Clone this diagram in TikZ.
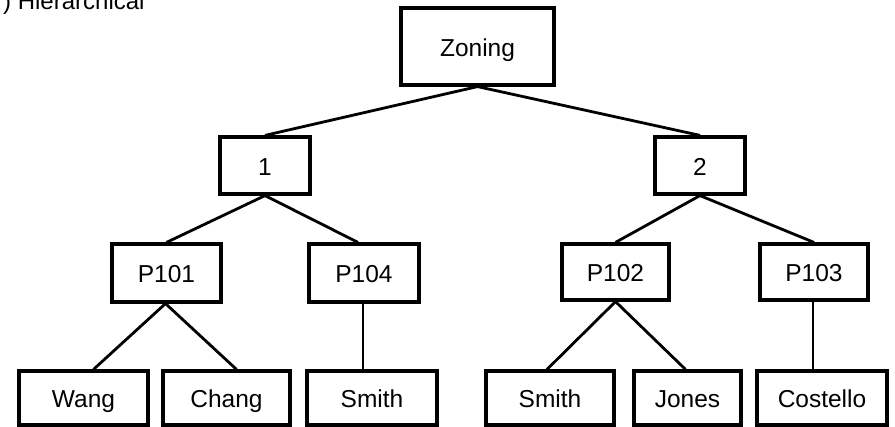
\documentclass[tikz,border=0pt]{standalone}
\usepackage{fontspec}
\setmainfont{Liberation Sans}
\begin{document}
\begin{tikzpicture}[x=1pt,y=-1pt,
  box/.style={draw,line width=3.2pt,inner sep=0pt,text height=20pt,text depth=0pt,font=\fontsize{24.5}{28}\selectfont},
  link/.style={line width=2.8pt}]
\useasboundingbox (0,0) rectangle (895,427);
\fill[white] (0,0) rectangle (895,427);
\node[anchor=base west,inner sep=0pt,font=\fontsize{24}{28}\selectfont] (title) at (3,10) {) Hierarchical};
\node[box,minimum width=153pt,minimum height=77pt] (zoning) at (477.5,46.5) {Zoning};
\node[box,minimum width=90pt,minimum height=57pt] (n1) at (265,165.5) {1};
\node[box,minimum width=90pt,minimum height=57pt] (n2) at (700,165.5) {2};
\node[box,minimum width=109pt,minimum height=58pt] (p101) at (166.5,273) {P101};
\node[box,minimum width=110pt,minimum height=58pt] (p104) at (364,273) {P104};
\node[box,minimum width=107pt,minimum height=56pt] (p102) at (615.5,272) {P102};
\node[box,minimum width=108pt,minimum height=56pt] (p103) at (814,272) {P103};
\node[box,minimum width=129pt,minimum height=54pt] (wang) at (83.5,398) {Wang};
\node[box,minimum width=127pt,minimum height=54pt] (chang) at (226.5,398) {Chang};
\node[box,minimum width=130pt,minimum height=54pt] (smitha) at (372,398) {Smith};
\node[box,minimum width=128pt,minimum height=54pt] (smithb) at (550,398) {Smith};
\node[box,minimum width=107pt,minimum height=54pt] (jones) at (687.5,398) {Jones};
\node[box,minimum width=130pt,minimum height=54pt] (costello) at (822,398) {Costello};
\draw[link] (zoning.south) -- (n1.north);
\draw[link] (zoning.south) -- (n2.north);
\draw[link] (n1.south) -- (p101.north);
\draw[link] (n1.south) -- ([xshift=-6pt]p104.north);
\draw[link] (n2.south) -- (p102.north);
\draw[link] (n2.south) -- (p103.north);
\draw[link] ([xshift=-1pt]p101.south) -- ([xshift=10pt]wang.north);
\draw[link] ([xshift=-1pt]p101.south) -- ([xshift=10pt]chang.north);
\draw[link] ([xshift=-1pt]p104.south) -- ([xshift=-9pt]smitha.north);
\draw[link] (p102.south) -- ([xshift=-3pt]smithb.north);
\draw[link] (p102.south) -- ([xshift=-2pt]jones.north);
\draw[link] ([xshift=-1pt]p103.south) -- ([xshift=-9pt]costello.north);
\end{tikzpicture}
\end{document}
